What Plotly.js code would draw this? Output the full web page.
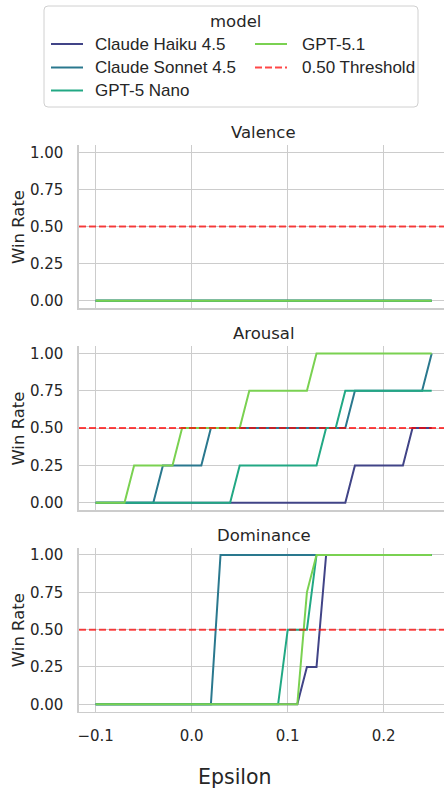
<!DOCTYPE html>
<html>
<head>
<meta charset="utf-8">
<script src="https://cdn.plot.ly/plotly-3.0.1.min.js"></script>
<style>html,body{margin:0;padding:0;background:#fff;}#chart{width:444px;height:788px;}</style>
</head>
<body>
<div id="chart"></div>
<script>
// ---------- data ----------
const epsilon = [-0.10,-0.09,-0.08,-0.07,-0.06,-0.05,-0.04,-0.03,-0.02,-0.01,
                 0.00,0.01,0.02,0.03,0.04,0.05,0.06,0.07,0.08,0.09,
                 0.10,0.11,0.12,0.13,0.14,0.15,0.16,0.17,0.18,0.19,
                 0.20,0.21,0.22,0.23,0.24,0.25];
const models = ["Claude Haiku 4.5","Claude Sonnet 4.5","GPT-5 Nano","GPT-5.1"];
const panels = ["Valence","Arousal","Dominance"];
const threshold = 0.50;
const thresholdLabel = "0.50 Threshold";
const legendTitle = "model";
const yTickVals = [0,0.25,0.5,0.75,1.0];
const yTickText = ["0.00","0.25","0.50","0.75","1.00"];
const xTickVals = [-0.1,0.0,0.1,0.2];
const xTickText = ["\u22120.1","0.0","0.1","0.2"];

// Valence
const valHaiku  = [0,0,0,0,0,0,0,0,0,0,0,0,0,0,0,0,0,0,0,0,0,0,0,0,0,0,0,0,0,0,0,0,0,0,0,0];
const valSonnet = [0,0,0,0,0,0,0,0,0,0,0,0,0,0,0,0,0,0,0,0,0,0,0,0,0,0,0,0,0,0,0,0,0,0,0,0];
const valNano   = [0,0,0,0,0,0,0,0,0,0,0,0,0,0,0,0,0,0,0,0,0,0,0,0,0,0,0,0,0,0,0,0,0,0,0,0];
const valGpt51  = [0,0,0,0,0,0,0,0,0,0,0,0,0,0,0,0,0,0,0,0,0,0,0,0,0,0,0,0,0,0,0,0,0,0,0,0];
// Arousal
const aroHaiku  = [0,0,0,0,0,0,0,0,0,0, 0,0,0,0,0,0,0,0,0,0, 0,0,0,0,0,0,0,0.25,0.25,0.25, 0.25,0.25,0.25,0.5,0.5,0.5];
const aroSonnet = [0,0,0,0,0,0,0,0.25,0.25,0.25, 0.25,0.25,0.5,0.5,0.5,0.5,0.5,0.5,0.5,0.5, 0.5,0.5,0.5,0.5,0.5,0.5,0.5,0.75,0.75,0.75, 0.75,0.75,0.75,0.75,0.75,1.0];
const aroNano   = [0,0,0,0,0,0,0,0,0,0, 0,0,0,0,0,0.25,0.25,0.25,0.25,0.25, 0.25,0.25,0.25,0.25,0.5,0.5,0.75,0.75,0.75,0.75, 0.75,0.75,0.75,0.75,0.75,0.75];
const aroGpt51  = [0,0,0,0,0.25,0.25,0.25,0.25,0.25,0.5, 0.5,0.5,0.5,0.5,0.5,0.5,0.75,0.75,0.75,0.75, 0.75,0.75,0.75,1.0,1.0,1.0,1.0,1.0,1.0,1.0, 1.0,1.0,1.0,1.0,1.0,1.0];
// Dominance
const domHaiku  = [0,0,0,0,0,0,0,0,0,0, 0,0,0,0,0,0,0,0,0,0, 0,0,0.25,0.25,1.0,1.0,1.0,1.0,1.0,1.0, 1.0,1.0,1.0,1.0,1.0,1.0];
const domSonnet = [0,0,0,0,0,0,0,0,0,0, 0,0,0,1.0,1.0,1.0,1.0,1.0,1.0,1.0, 1.0,1.0,1.0,1.0,1.0,1.0,1.0,1.0,1.0,1.0, 1.0,1.0,1.0,1.0,1.0,1.0];
const domNano   = [0,0,0,0,0,0,0,0,0,0, 0,0,0,0,0,0,0,0,0,0, 0.5,0.5,0.5,1.0,1.0,1.0,1.0,1.0,1.0,1.0, 1.0,1.0,1.0,1.0,1.0,1.0];
const domGpt51  = [0,0,0,0,0,0,0,0,0,0, 0,0,0,0,0,0,0,0,0,0, 0,0,0.75,1.0,1.0,1.0,1.0,1.0,1.0,1.0, 1.0,1.0,1.0,1.0,1.0,1.0];

const panelSeries = [
  [valHaiku, valSonnet, valNano, valGpt51],
  [aroHaiku, aroSonnet, aroNano, aroGpt51],
  [domHaiku, domSonnet, domNano, domGpt51]
];

// ---------- styling ----------
const W = 444, H = 788;
const colors = ["#414487","#2a788e","#22a884","#7ad151"];
const red = "rgba(255,0,0,0.72)";
const textColor = "#262626";
const gridColor = "#cccccc";
const px = v => v / W;
const py = v => 1 - v / H;

const plotLeft = 79;
const xRange = [-0.1174, 0.2628];
const panelPx = [[145, 308.1], [346, 510.2], [547.5, 711.8]];

const traces = [];
const layout = {
  width: W, height: H,
  margin: {l: 0, r: 0, t: 0, b: 0},
  paper_bgcolor: "#fff", plot_bgcolor: "#fff",
  showlegend: false,
  font: {family: "DejaVu Sans", size: 15, color: textColor},
  shapes: [], annotations: []
};

panels.forEach((name, p) => {
  const xa = p === 0 ? "x" : "x" + (p + 1);
  const ya = p === 0 ? "y" : "y" + (p + 1);
  const xKey = p === 0 ? "xaxis" : "xaxis" + (p + 1);
  const yKey = p === 0 ? "yaxis" : "yaxis" + (p + 1);
  panelSeries[p].forEach((vals, m) => {
    traces.push({
      type: "scatter", mode: "lines", x: epsilon, y: vals,
      name: models[m], xaxis: xa, yaxis: ya,
      line: {color: colors[m], width: 2}, hoverinfo: "skip"
    });
  });
  const [top, bot] = panelPx[p];
  layout[xKey] = {
    domain: [px(plotLeft), 1], range: xRange, anchor: ya,
    tickvals: xTickVals, ticktext: xTickText,
    showticklabels: p === 2, ticks: "", ticklabelstandoff: 10,
    showgrid: true, gridcolor: gridColor, gridwidth: 1,
    zeroline: false, showline: true, linecolor: gridColor, linewidth: 1.6,
    tickfont: {family: "DejaVu Sans", size: 15, color: textColor}
  };
  layout[yKey] = {
    domain: [py(bot), py(top)], range: [-0.05, 1.05], anchor: xa,
    tickvals: yTickVals, ticktext: yTickText, ticks: "", ticklabelstandoff: 11,
    showgrid: true, gridcolor: gridColor, gridwidth: 1,
    zeroline: false, showline: true, linecolor: gridColor, linewidth: 1.6,
    tickfont: {family: "DejaVu Sans", size: 15, color: textColor}
  };
  // threshold line
  layout.shapes.push({
    type: "line", xref: xa + " domain", yref: ya, x0: 0, x1: 1, y0: threshold, y1: threshold,
    line: {color: red, width: 2, dash: "7px,3px"}, layer: "above"
  });
  // panel title
  layout.annotations.push({
    text: name, xref: "paper", yref: "paper", x: px(263.5), y: py(top - 12.5),
    xanchor: "center", yanchor: "middle", showarrow: false,
    font: {family: "DejaVu Sans", size: 16.5, color: textColor}
  });
  // y axis title
  layout.annotations.push({
    text: "Win Rate", xref: "paper", yref: "paper", x: px(18.5), y: py((top + bot) / 2 + 1),
    xanchor: "center", yanchor: "middle", textangle: -90, showarrow: false,
    font: {family: "DejaVu Sans", size: 16.5, color: textColor}
  });
});

// x axis title
layout.annotations.push({
  text: "Epsilon", xref: "paper", yref: "paper", x: px(235), y: py(777),
  xanchor: "center", yanchor: "middle", showarrow: false,
  font: {family: "DejaVu Sans", size: 20.5, color: textColor}
});

// ---------- legend (drawn manually for the 2-column, column-major layout) ----------
const lg = {l: 44, t: 6, r: 418, b: 107, rad: 4};
const rx = lg.rad / W, ry = lg.rad / H;
const L = px(lg.l), R = px(lg.r), T = py(lg.t), B = py(lg.b);
layout.shapes.push({
  type: "path", xref: "paper", yref: "paper",
  path: `M ${L + rx},${T} L ${R - rx},${T} Q ${R},${T} ${R},${T - ry} L ${R},${B + ry} Q ${R},${B} ${R - rx},${B} L ${L + rx},${B} Q ${L},${B} ${L},${B + ry} L ${L},${T - ry} Q ${L},${T} ${L + rx},${T} Z`,
  line: {color: "#d0d0d0", width: 1}, fillcolor: "rgba(255,255,255,0.8)", layer: "above"
});
layout.annotations.push({
  text: legendTitle, xref: "paper", yref: "paper", x: px(235), y: py(21.5),
  xanchor: "center", yanchor: "middle", showarrow: false,
  font: {family: "DejaVu Sans", size: 16.5, color: textColor}
});
const legendItems = [
  {label: models[0], color: colors[0], dash: "solid", col: 0, row: 0},
  {label: models[1], color: colors[1], dash: "solid", col: 0, row: 1},
  {label: models[2], color: colors[2], dash: "solid", col: 0, row: 2},
  {label: models[3], color: colors[3], dash: "solid", col: 1, row: 0},
  {label: thresholdLabel, color: red, dash: "7px,3px", col: 1, row: 1}
];
const rowY = [44, 67.5, 90.5];
const colX = [[51, 83, 93], [255, 287, 300]];
legendItems.forEach(it => {
  const [x0, x1, tx] = colX[it.col];
  const y = rowY[it.row];
  layout.shapes.push({
    type: "line", xref: "paper", yref: "paper", x0: px(x0), x1: px(x1), y0: py(y), y1: py(y),
    line: {color: it.color, width: 2, dash: it.dash}, layer: "above"
  });
  layout.annotations.push({
    text: it.label, xref: "paper", yref: "paper", x: px(tx), y: py(y),
    xanchor: "left", yanchor: "middle", showarrow: false,
    font: {family: "Liberation Sans, Arial, sans-serif", size: 17, color: textColor}
  });
});

Plotly.newPlot("chart", traces, layout, {staticPlot: true, displayModeBar: false});
</script>
</body>
</html>
